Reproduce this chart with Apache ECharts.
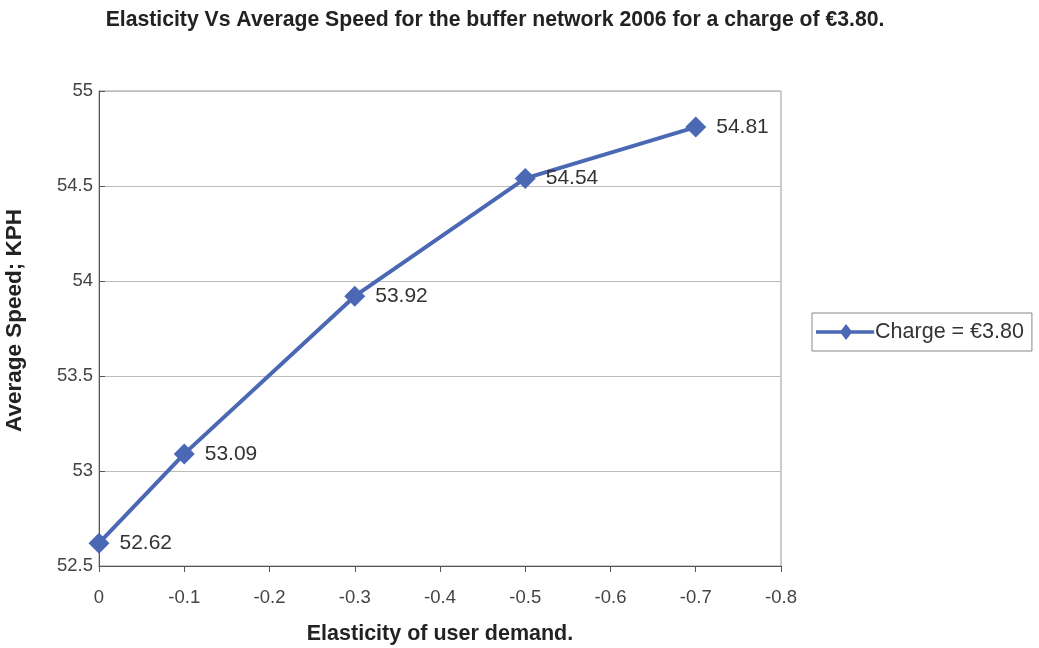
<!DOCTYPE html>
<html>
<head>
<meta charset="utf-8">
<script src="https://cdn.jsdelivr.net/npm/echarts@6/dist/echarts.min.js"></script>
<style>
  html, body { margin: 0; padding: 0; background: #fff; }
  #chart { width: 1039px; height: 648px; }
</style>
</head>
<body>
<div id="chart"></div>
<script>
// Elasticity of user demand (x) against average network speed (y)
const elasticity = [0, -0.1, -0.3, -0.5, -0.7];
const avgSpeed = [52.62, 53.09, 53.92, 54.54, 54.81];
const seriesName = 'Charge = €3.80';

const chart = echarts.init(document.getElementById('chart'));
const font = 'Liberation Sans, Arial, sans-serif';
const blue = '#4a68b4';

chart.setOption({
  backgroundColor: '#ffffff',
  animation: false,
  title: {
    text: 'Elasticity Vs Average Speed for the buffer network 2006 for a charge of €3.80.',
    left: 490,
    textAlign: 'center',
    top: 5,
    textStyle: { fontFamily: font, fontSize: 21.2, fontWeight: 'bold', color: '#222' }
  },
  legend: {
    left: 812,
    top: 313,
    orient: 'vertical',
    itemWidth: 60,
    itemHeight: 16,
    itemGap: 0,
    padding: [8, 8, 8, 4],
    borderColor: '#888',
    borderWidth: 1,
    textStyle: { fontFamily: font, fontSize: 21.5, color: '#333', padding: [0, 0, 0, -5] },
    data: [{ name: seriesName, icon: 'path://M0,6.5 L26,6.5 L31,0 L36,6.5 L60,6.5 L60,10 L36,10 L31,16.5 L26,10 L0,10 Z' }]
  },
  grid: {
    left: 99, right: 258, top: 91, bottom: 82,
    containLabel: false, outerBoundsMode: 'none',
    show: true, borderColor: '#999', borderWidth: 1
  },
  xAxis: {
    type: 'value',
    inverse: true,
    min: -0.8,
    max: 0,
    interval: 0.1,
    name: 'Elasticity of user demand.',
    nameLocation: 'middle',
    nameGap: 57,
    nameTextStyle: { fontFamily: font, fontSize: 21.5, fontWeight: 'bold', color: '#222' },
    axisLine: { show: true, lineStyle: { color: '#555', width: 1 } },
    axisTick: { show: true, length: 6, lineStyle: { color: '#555' } },
    axisLabel: { fontFamily: font, fontSize: 18.5, color: '#444', margin: 22,
      formatter: v => (Math.round(v * 10) / 10).toString() },
    splitLine: { show: false }
  },
  yAxis: {
    type: 'value',
    min: 52.5,
    max: 55,
    interval: 0.5,
    name: 'Average Speed; KPH',
    nameLocation: 'middle',
    nameGap: 73,
    nameTextStyle: { fontFamily: font, fontSize: 22.5, fontWeight: 'bold', color: '#222', padding: [0, 0, 0, 16] },
    axisLine: { show: true, lineStyle: { color: '#555', width: 1 } },
    axisTick: { show: true, inside: true, length: 6, lineStyle: { color: '#555' } },
    axisLabel: { fontFamily: font, fontSize: 18.5, color: '#444', margin: 6 },
    splitLine: { show: true, lineStyle: { color: '#bcbcbc', width: 1 } }
  },
  series: [{
    name: seriesName,
    type: 'line',
    data: elasticity.map((x, i) => [x, avgSpeed[i]]),
    symbol: 'diamond',
    symbolSize: 21,
    lineStyle: { color: blue, width: 4 },
    itemStyle: { color: blue },
    label: {
      show: true,
      position: 'right',
      distance: 10,
      fontFamily: font,
      fontSize: 21,
      color: '#333',
      formatter: p => p.value[1].toFixed(2)
    }
  }]
});
</script>
</body>
</html>
